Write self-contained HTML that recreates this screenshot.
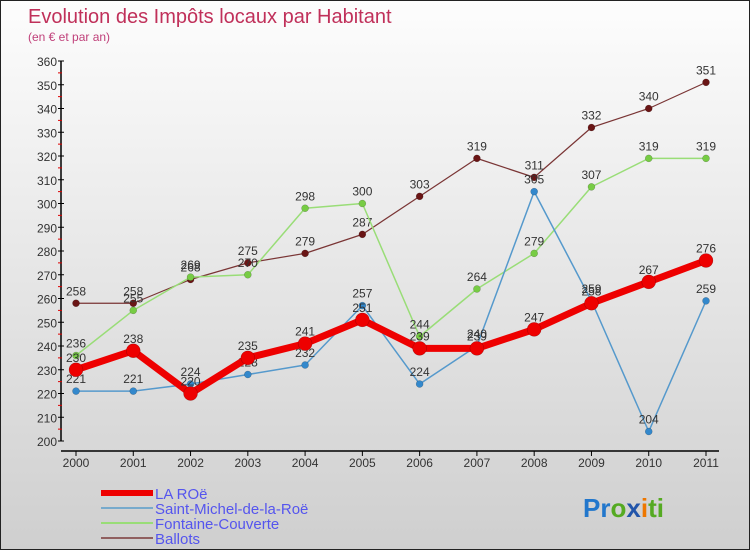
<!DOCTYPE html>
<html><head><meta charset="utf-8"><style>
body{margin:0;width:750px;height:550px;overflow:hidden}
#c{position:relative;width:748px;height:548px;border:1px solid #222;background:linear-gradient(#fdfdfd,#e6e6e6 50%,#cfcfcf);font-family:"Liberation Sans",sans-serif}
svg{position:absolute;left:0;top:0}
</style></head><body>
<div id="c">
<svg id="s" width="750" height="550">
<text x="27" y="22" font-size="20" fill="#c0305a">Evolution des Impôts locaux par Habitant</text>
<text x="27" y="40" font-size="12" fill="#c0407a">(en € et par an)</text>
</svg>
</div>
<script>
const years=["2000","2001","2002","2003","2004","2005","2006","2007","2008","2009","2010","2011"];
const yTicks=[200,210,220,230,240,250,260,270,280,290,300,310,320,330,340,350,360];
const laRoe=[230,238,220,235,241,251,239,239,247,258,267,276];
const saintMichel=[221,221,224,228,232,257,224,240,305,259,204,259];
const fontaine=[236,255,269,270,298,300,244,264,279,307,319,319];
const ballots=[258,258,268,275,279,287,303,319,311,332,340,351];
const NS="http://www.w3.org/2000/svg",svg=document.getElementById('s');
const X=i=>75+i*(630/11), Y=v=>440-(v-200)*2.375;
function mk(t,a,p){const e=document.createElementNS(NS,t);for(const k in a)e.setAttribute(k,a[k]);(p||svg).appendChild(e);return e;}
// axes
let ax=mk('line',{x1:60,y1:60,x2:60,y2:440,stroke:'#000','stroke-width':1.5});


let xa=mk('line',{x1:60,y1:450,x2:718,y2:450,stroke:'#000','stroke-width':1.5});


yTicks.forEach((v,i)=>{
  mk('line',{x1:57,x2:63,y1:Y(v),y2:Y(v),stroke:'#000'});
  if(i<yTicks.length-1)mk('line',{x1:57,x2:61,y1:Y(v+5),y2:Y(v+5),stroke:'#d00'});
  const t=mk('text',{x:56,y:Y(v)+5,'text-anchor':'end','font-size':12,fill:'#333'});t.textContent=v;
  
  
});
years.forEach((y,i)=>{
  mk('line',{x1:X(i),x2:X(i),y1:450,y2:455,stroke:'#000'});
  const t=mk('text',{x:X(i),y:466,'text-anchor':'middle','font-size':12,fill:'#333'});t.textContent=y;
  
  
});
function series(d,col,w,r,dot,name){
  const g=mk('g',{});
  
  
  mk('polyline',{points:d.map((v,i)=>X(i)+','+Y(v)).join(' '),fill:'none',stroke:col,'stroke-width':w,'stroke-linejoin':'round'},g);
  d.forEach((v,i)=>{
    const c=mk('circle',{cx:X(i),cy:Y(v),r:r,fill:dot,stroke:'rgba(0,0,0,0.3)','stroke-width':0.5},g);
    
    
    const t=mk('text',{x:X(i),y:Y(v)-8,'text-anchor':'middle','font-size':12,fill:'#333'},g);t.textContent=v;
  });
}
series(ballots,'#7a3535',1.2,3.5,'#6a1515','series-ballots');
series(fontaine,'#99dd77',1.5,3.5,'#77cc44','series-fontaine-couverte');
series(saintMichel,'#5599cc',1.5,3.5,'#3388cc','series-saint-michel');
series(laRoe,'#ee0000',7,7,'#ee0000','series-la-roe');
// legend
const leg=[["LA ROë","#ee0000",6],["Saint-Michel-de-la-Roë","#77aacc",2],["Fontaine-Couverte","#99dd77",2],["Ballots","#906060",2]];
leg.forEach((l,i)=>{
  const y=492+i*15;
  const g=mk('g',{});
  
  
  mk('line',{x1:100,x2:152,y1:y,y2:y,stroke:l[1],'stroke-width':l[2]},g);
  const t=mk('text',{x:154,y:y+6,'font-size':15,fill:'#5555ee'},g);t.textContent=l[0];
});
const lg=mk('text',{x:582,y:516,'font-size':26,'font-weight':'bold'});


[["Pr","#2277cc"],["o","#55aa22"],["x","#2255aa"],["i","#ee7700"],["ti","#55aa22"]].forEach(p=>{const s=mk('tspan',{fill:p[1]},lg);s.textContent=p[0];});
</script>
</body></html>
